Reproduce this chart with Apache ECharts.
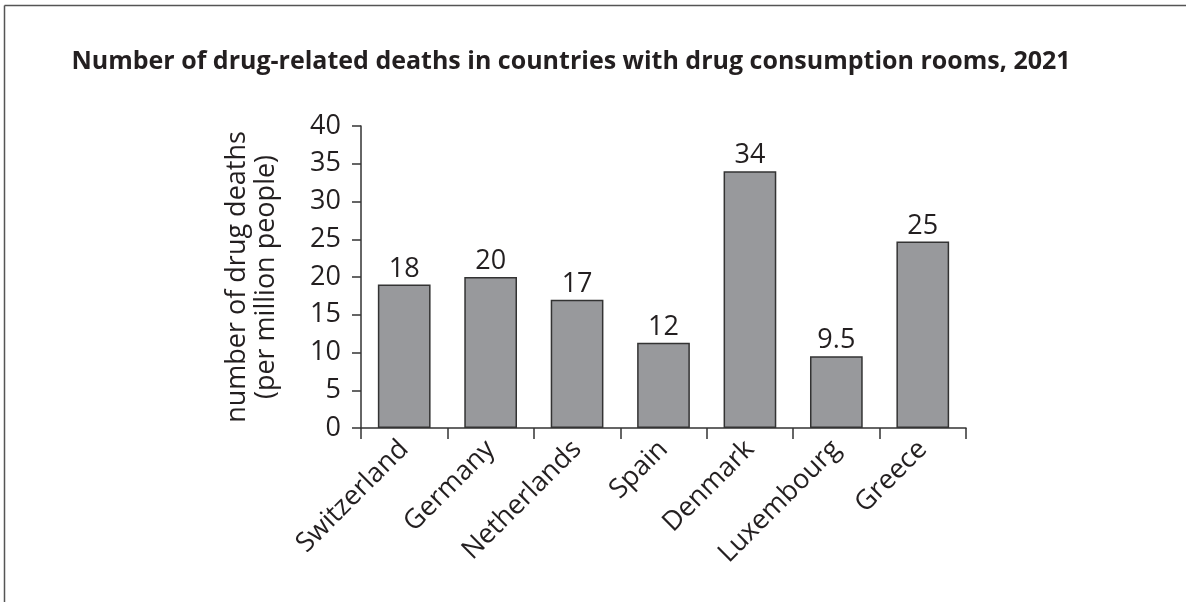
<!DOCTYPE html>
<html>
<head>
<meta charset="utf-8">
<script src="https://cdn.jsdelivr.net/npm/echarts@6/dist/echarts.min.js"></script>
<style>
html,body{margin:0;padding:0;background:#fff;}
#main{width:1186px;height:602px;}
</style>
</head>
<body>
<div id="main"></div>
<script>
var categories = ["Switzerland", "Germany", "Netherlands", "Spain", "Denmark", "Luxembourg", "Greece"];
var barHeights = [19, 20, 17, 11.3, 34, 9.5, 24.7];
var labelTexts = ["18", "20", "17", "12", "34", "9.5", "25"];
var yTicks = [0, 5, 10, 15, 20, 25, 30, 35, 40];

var FONT = "Open Sans";
var chart = echarts.init(document.getElementById('main'), null, {renderer: 'canvas'});
chart.setOption({
  animation: false,
  backgroundColor: '#ffffff',
  title: {
    text: 'Number of drug-related deaths in countries with drug consumption rooms, 2021',
    left: 566, top: 44, textAlign: 'center',
    textStyle: {fontFamily: FONT, fontWeight: 'bold', fontSize: 25, color: '#231f20'}
  },
  graphic: [
    {type: 'line', shape: {x1: 4.5, y1: 5.5, x2: 1186, y2: 5.5}, style: {stroke: '#555', lineWidth: 1.5}},
    {type: 'line', shape: {x1: 4.5, y1: 5.5, x2: 4.5, y2: 602}, style: {stroke: '#555', lineWidth: 1.5}}
  ],
  grid: {left: 361, right: 220, top: 126, bottom: 174, containLabel: false},
  xAxis: {
    type: 'category',
    data: categories,
    axisLine: {show: true, lineStyle: {color: '#333', width: 1.5}},
    axisTick: {show: true, length: 11, alignWithLabel: false, lineStyle: {color: '#333', width: 1.5}},
    axisLabel: {rotate: 45, margin: 17, fontFamily: FONT, fontSize: 27, color: '#231f20', interval: 0}
  },
  yAxis: {
    type: 'value',
    min: yTicks[0], max: yTicks[yTicks.length - 1], interval: 5,
    name: 'number of drug deaths\n(per million people)',
    nameLocation: 'middle', nameGap: 80, nameRotate: 90,
    nameTextStyle: {fontFamily: FONT, fontSize: 27, color: '#231f20', lineHeight: 29},
    axisLine: {show: true, lineStyle: {color: '#333', width: 1.5}},
    axisTick: {show: true, length: 9, lineStyle: {color: '#333', width: 1.5}},
    axisLabel: {margin: 20, fontFamily: FONT, fontSize: 27, color: '#231f20'},
    splitLine: {show: false}
  },
  series: [{
    type: 'bar',
    data: barHeights,
    barWidth: '61%',
    itemStyle: {color: '#98999c', borderColor: '#333', borderWidth: 1.5},
    label: {
      show: true, position: 'top', distance: 2,
      fontFamily: FONT, fontSize: 27, color: '#231f20',
      formatter: function (p) { return labelTexts[p.dataIndex]; }
    }
  }]
});
</script>
</body>
</html>
